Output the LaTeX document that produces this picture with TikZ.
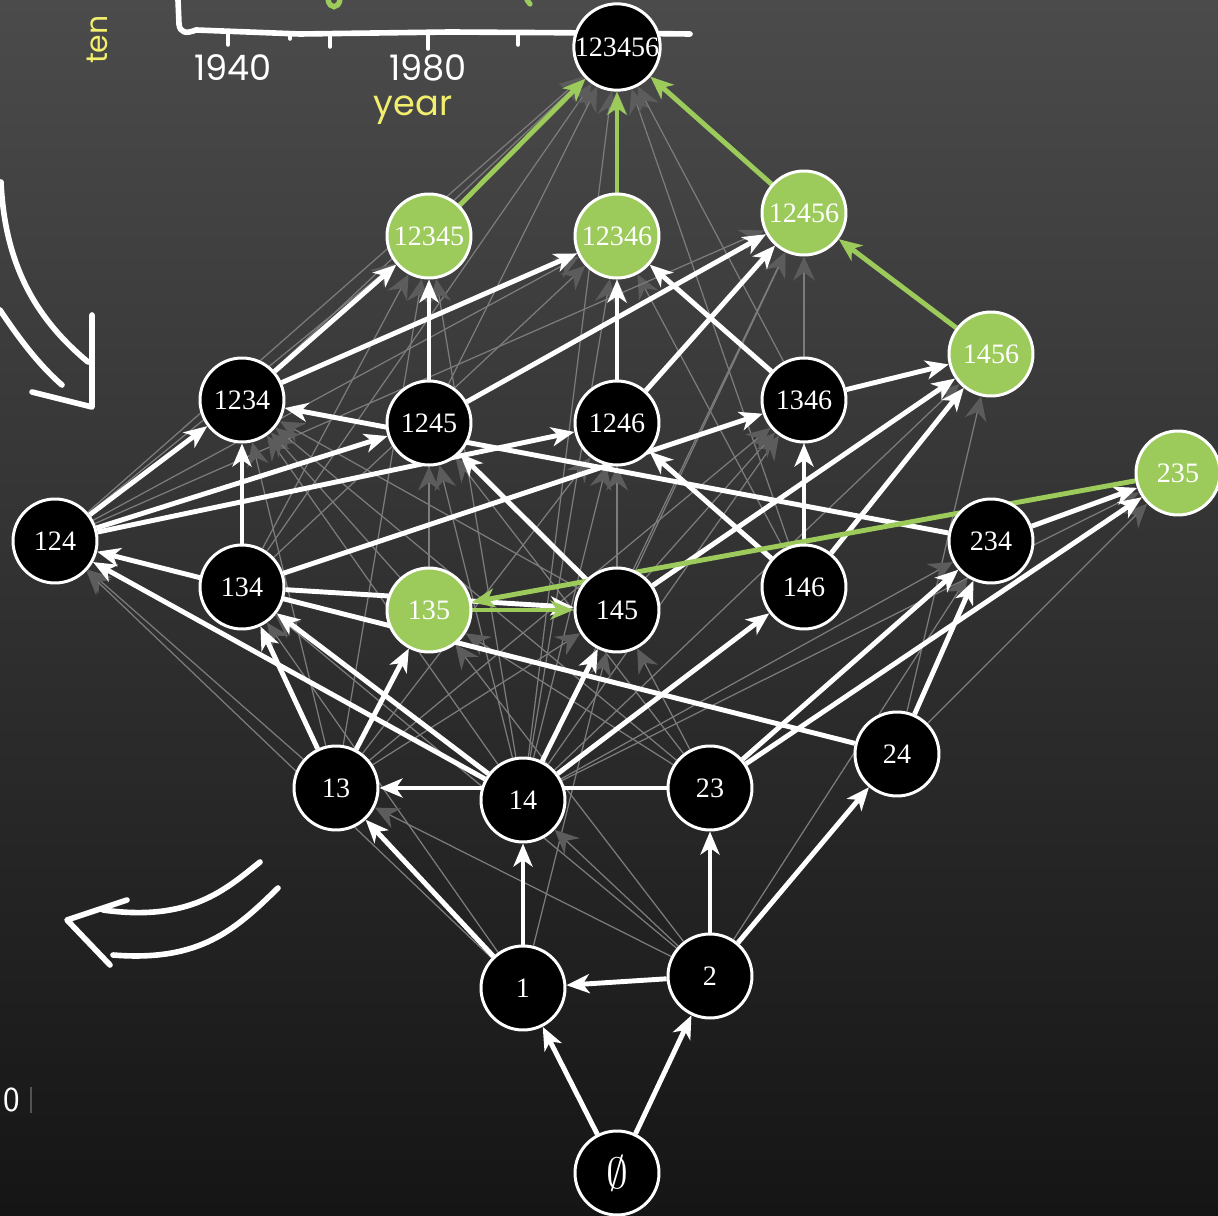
\documentclass[tikz,border=0pt]{standalone}
\usepackage{fontspec}
\setmainfont{Liberation Serif}
\newfontfamily\chalkfont{Poppins}
\usetikzlibrary{arrows.meta,positioning}
\definecolor{boardTop}{HTML}{4B4B4B}
\definecolor{boardMid}{HTML}{333333}
\definecolor{boardBot}{HTML}{151515}
\definecolor{chalkGreen}{HTML}{9CCB5B}
\definecolor{chalkYellow}{HTML}{F2EE6E}
\definecolor{edgeGray}{HTML}{7C7C7C}
\definecolor{tipGray}{HTML}{5C5C5C}
\pgfdeclarelayer{board}
\pgfdeclarelayer{edges}
\pgfsetlayers{board,edges,main}

\begin{document}
\begin{tikzpicture}[
    x=0.02cm, y=-0.02cm,
    elem/.style={circle, draw=white, line width=1.7pt, fill=black, text=white, minimum size=1.68cm, inner sep=0pt, font=\fontsize{16}{16}\selectfont},
    hit/.style={elem, fill=chalkGreen},
    wedge/.style={draw=white, line width=2.8pt, -{Stealth[length=4.6mm,width=3.8mm,inset=1.3mm]}},
    gedge/.style={draw=chalkGreen, line width=2.8pt, -{Stealth[length=4.6mm,width=3.8mm,inset=1.3mm]}},
    minor/.style={draw=edgeGray, line width=0.7pt, -{Stealth[length=4.8mm,width=4.4mm,inset=1.6mm,color=tipGray]}},
    chalk/.style={draw=white, line width=3.2pt, line cap=round, line join=round},
    scrawl/.style={font=\chalkfont\fontsize{20}{20}\selectfont},
]

\useasboundingbox (0,0) rectangle (1218,1216);
\clip (0,0) rectangle (1218,1216);

% ===== BOARD =====
\begin{pgfonlayer}{board}
\shade[top color=boardTop, middle color=boardMid, bottom color=boardBot] (0,0) rectangle (1218,1216);
\end{pgfonlayer}

% ===== CHALK SCRIBBLES: axis, labels, arrows =====
\draw[chalk] (178,0) -- (179,24) .. controls (180,33) and (186,34) .. (196,30)
    -- (300,34) -- (450,32) -- (600,33) -- (690,34);
\foreach \tx/\tl in {228/12, 290/6, 330/14, 428/16, 518/12}{
    \draw[chalk, line width=2pt] (\tx,33) -- ++(0,\tl);
}
\node[scrawl, text=white] (y1940) at (233,68) {1940};
\node[scrawl, text=white] (y1980) at (428,68) {1980};
\node[scrawl, text=chalkYellow] (yearlab) at (413,110) {year};
\node[scrawl, text=chalkYellow, rotate=90, anchor=west, inner sep=1pt, font=\chalkfont\fontsize{17}{17}\selectfont] (tenlab) at (97,66) {ten};
\draw[chalkGreen, line width=3pt, line cap=round] (328,0) .. controls (330,9) and (338,9) .. (340,0);
\draw[chalkGreen, line width=3pt, line cap=round] (527,0) -- (530,4);

% upper left arrow
\draw[chalk] (1,182) .. controls (5,270) and (40,322) .. (88,362);
\draw[chalk] (0,310) .. controls (20,340) and (40,366) .. (62,385);
\draw[chalk] (92,315) -- (92,407) -- (32,392);

% lower left arrow
\draw[chalk] (260,862) .. controls (225,890) and (190,922) .. (103,910);
\draw[chalk] (278,888) .. controls (235,930) and (200,962) .. (113,955);
\draw[chalk] (127,900) -- (67,920) -- (110,965);

\node[font=\sffamily\fontsize{20}{20}\selectfont, text=white, anchor=west, inner sep=1pt] (zerolab) at (1,1100) {0};
\draw[white, opacity=0.25, line width=0.8pt] (31,1087) -- (31,1113);

% ===== SETS =====
\node[elem] (n123456) at (617,47) {123456};

\node[hit] (n12345) at (429,236) {12345};
\node[hit] (n12346) at (617,236) {12346};
\node[hit] (n12456) at (804,213) {12456};
\node[hit] (n1456) at (991,354) {1456};

\node[elem] (n1234) at (242,400) {1234};
\node[elem] (n1245) at (429,423) {1245};
\node[elem] (n1246) at (617,423) {1246};
\node[elem] (n1346) at (804,400) {1346};
\node[hit] (n235) at (1178,473) {235};

\node[elem] (n124) at (55,541) {124};
\node[elem] (n134) at (242,587) {134};
\node[hit] (n135) at (429,610) {135};
\node[elem] (n145) at (617,610) {145};
\node[elem] (n146) at (804,587) {146};
\node[elem] (n234) at (991,541) {234};

\node[elem] (n13) at (336,788) {13};
\node[elem] (n14) at (523,800) {14};
\node[elem] (n23) at (710,788) {23};
\node[elem] (n24) at (897,754) {24};

\node[elem] (n1) at (523,988) {1};
\node[elem] (n2) at (710,976) {2};
\node[elem] (nempty) at (617,1173) {\fontsize{24}{24}\selectfont$\emptyset$};

% ===== EDGES =====
\begin{pgfonlayer}{edges}
% implied (thin gray)
\foreach \a/\b in {n1234/n123456, n124/n123456, n134/n123456, n1245/n123456, n1246/n123456,
    n145/n123456, n146/n123456, n1346/n123456, n14/n123456,
    n124/n12345, n134/n12345, n135/n12345, n14/n12345, n13/n12345,
    n124/n12346, n134/n12346, n146/n12346, n14/n12346, n145/n12346,
    n124/n12456, n145/n12456, n146/n12456, n14/n12456,
    n14/n1234, n135/n1234, n145/n1234, n23/n1234, n13/n1234,
    n14/n1245, n135/n1245, n23/n1245,
    n14/n1246, n145/n1246, n13/n1246,
    n14/n1346, n145/n1346, n13/n1346,
    n14/n1456, n24/n1456,
    n13/n124, n1/n124, n1/n134, n2/n134,
    n23/n135, n2/n135, n13/n145, n1/n145, n23/n145,
    n2/n234, n14/n234, n2/n13, n2/n14, n24/n235, n14/n235}
    \draw[minor] (\a) -- (\b);

% covering steps (white)
\foreach \a/\b in {nempty/n1, nempty/n2, n2/n1, n1/n13, n1/n14, n2/n23, n2/n24,
    n23/n13, n13/n134, n13/n135, n14/n124, n14/n134, n14/n145, n14/n146,
    n23/n234, n23/n235, n24/n234, n24/n124, n234/n235,
    n134/n1234, n134/n145, n134/n1346,
    n124/n1234, n124/n1245, n124/n1246,
    n145/n1245, n145/n1456, n146/n1246, n146/n1346, n146/n1456,
    n1346/n1456, n1346/n12346, n234/n1234,
    n1234/n12345, n1234/n12346, n1245/n12345, n1245/n12456,
    n1246/n12346, n1246/n12456}
    \draw[wedge] (\a) -- (\b);

% highlighted chain (green)
\foreach \a/\b in {n12345/n123456, n12346/n123456, n12456/n123456,
    n1456/n12456, n235/n135, n135/n145}
    \draw[gedge] (\a) -- (\b);
\end{pgfonlayer}

\end{tikzpicture}
\end{document}
